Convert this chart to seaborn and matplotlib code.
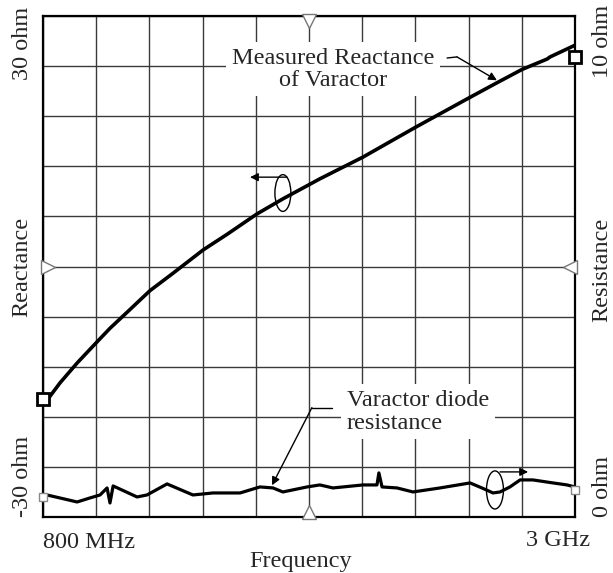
import numpy as np
import pandas as pd
import matplotlib
matplotlib.use("Agg")
import matplotlib.pyplot as plt
from matplotlib.patches import Ellipse
import seaborn as sns

# trace data (MHz, ohm)
react_freq = [800, 808, 870, 941, 1023, 1077, 1147, 1242, 1338, 1462, 1561, 1685, 1792,
              1945, 2123, 2342, 2562, 2677, 2781, 2885, 2897, 3000]
reactance = [-16.1, -16.35, -13.95, -11.56, -9.04, -7.4, -5.5, -2.9, -0.8, 1.98, 3.85,
             6.3, 8.1, 10.5, 13.1, 16.7, 20.2, 22.0, 23.6, 24.85, 25.1, 26.5]

res_freq = [800, 816, 870, 941, 994, 1036, 1065, 1077, 1090, 1189, 1230, 1313, 1420, 1503,
            1615, 1697, 1751, 1792, 1892, 1945, 1999, 2123, 2181, 2189, 2202, 2264, 2330,
            2442, 2566, 2615, 2661, 2690, 2731, 2773, 2826, 2909, 2967, 3000]
resistance = [0.40, 0.44, 0.38, 0.30, 0.38, 0.44, 0.58, 0.28, 0.62, 0.40, 0.44, 0.66, 0.44,
              0.48, 0.48, 0.60, 0.58, 0.50, 0.60, 0.64, 0.58, 0.64, 0.64, 0.88, 0.60, 0.58,
              0.50, 0.58, 0.68, 0.58, 0.48, 0.50, 0.60, 0.74, 0.74, 0.68, 0.64, 0.60]

freq_ticks = np.linspace(800, 3000, 11)
react_ticks = np.linspace(-30, 30, 11)

sns.set_style("white")
plt.rcParams['font.family'] = ['Liberation Serif', 'DejaVu Serif']
FS = 17.5

fig = plt.figure(figsize=(6.13, 5.73), dpi=100)
ax = fig.add_subplot(111)
fig.subplots_adjust(left=43/613, right=575/613, bottom=1-517/573, top=1-16/573)

ax.set_xlim(800, 3000)
ax.set_ylim(-30, 30)
ax.set_xticks(freq_ticks)
ax.set_yticks(react_ticks)
ax.set_xticklabels([])
ax.set_yticklabels([])
ax.tick_params(length=0)
ax.grid(True, color="#3a3a3a", lw=1.0)
for s in ax.spines.values():
    s.set_color("black")
    s.set_linewidth(1.6)

react_df = pd.DataFrame({"freq": react_freq, "reactance": reactance})
sns.lineplot(data=react_df, x="freq", y="reactance", ax=ax, color="black",
             lw=2.6, estimator=None, sort=False, zorder=4)
ax.set_xlabel("")
ax.set_ylabel("")
# end markers
ax.plot([800, 3000], [-15.9, 25.1], ls="none", marker="s", ms=8, mfc="white",
        mec="black", mew=2, clip_on=False, zorder=6)

ax2 = ax.twinx()
ax2.set_ylim(0, 10)
ax2.set_yticks([])
ax2.grid(False)
res_df = pd.DataFrame({"freq": res_freq, "resistance": resistance})
sns.lineplot(data=res_df, x="freq", y="resistance", ax=ax2, color="black",
             lw=2.3, estimator=None, sort=False, zorder=4)
ax2.set_ylabel("")
ax2.plot([800, 3000], [0.40, 0.54], ls="none", marker="s", ms=6, mfc="white",
         mec="#888888", mew=1, clip_on=False, zorder=6)
for s in ax2.spines.values():
    s.set_visible(False)

# reference triangles
tri = dict(ls="none", mfc="white", mec="#777777", mew=1, ms=10, clip_on=False,
           transform=ax.transAxes, zorder=5)
ax.plot([0.009], [0.5], marker=">", **tri)
ax.plot([0.991], [0.5], marker="<", **tri)
ax.plot([0.5], [0.99], marker="v", **tri)
ax.plot([0.5], [0.01], marker="^", **tri)

# annotations
arrow = dict(arrowstyle="-|>", color="black", lw=1, mutation_scale=12, shrinkA=0, shrinkB=0)
ax.text(2000, 23.6, "Measured Reactance\nof Varactor", ha="center", va="center",
        fontsize=FS, linespacing=1.05, zorder=3,
        bbox=dict(facecolor="white", edgecolor="none", pad=4))
ax.plot([2471, 2512], [24.97, 25.1], color="black", lw=1)
ax.annotate("", xy=(2677, 22.3), xytext=(2512, 25.1), arrowprops=arrow)

ax.add_patch(Ellipse((1792, 8.8), 66, 4.4, fill=False, ec="black", lw=1, zorder=5))
ax.annotate("", xy=(1656, 10.7), xytext=(1809, 10.7), arrowprops=arrow)

ax.text(2057, -17.4, "Varactor diode\nresistance", ha="left", va="center",
        fontsize=FS, linespacing=1.1, zorder=3,
        bbox=dict(facecolor="white", edgecolor="none", pad=4))
ax.plot([1995, 1912], [-16.9, -16.9], color="black", lw=1)
ax.annotate("", xy=(1747, -26.2), xytext=(1912, -16.9), arrowprops=arrow)

ax2.add_patch(Ellipse((2669, 0.54), 70, 0.76, fill=False, ec="black", lw=1, zorder=5))
ax2.annotate("", xy=(2806, 0.90), xytext=(2690, 0.90), arrowprops=arrow)

# axis texts
W, H = 613, 573
fig.text(23/W, 1-7/H, "30 ohm", rotation=90, ha="center", va="top", fontsize=FS)
fig.text(23/W, 1-517/H, "-30 ohm", rotation=90, ha="center", va="bottom", fontsize=FS)
fig.text(22/W, 1-267/H, "Reactance", rotation=90, ha="center", va="center", fontsize=FS)
fig.text(602/W, 1-5/H, "10 ohm", rotation=90, ha="center", va="top", fontsize=FS)
fig.text(602/W, 1-517/H, "0 ohm", rotation=90, ha="center", va="bottom", fontsize=FS)
fig.text(602/W, 1-270/H, "Resistance", rotation=90, ha="center", va="center", fontsize=FS)
fig.text(43/W, 1-542/H, "800 MHz", ha="left", va="center", fontsize=FS)
fig.text(590/W, 1-541/H, "3 GHz", ha="right", va="center", fontsize=FS)
fig.text(301/W, 1-562/H, "Frequency", ha="center", va="center", fontsize=FS)

fig.savefig("out.png", dpi=100)
